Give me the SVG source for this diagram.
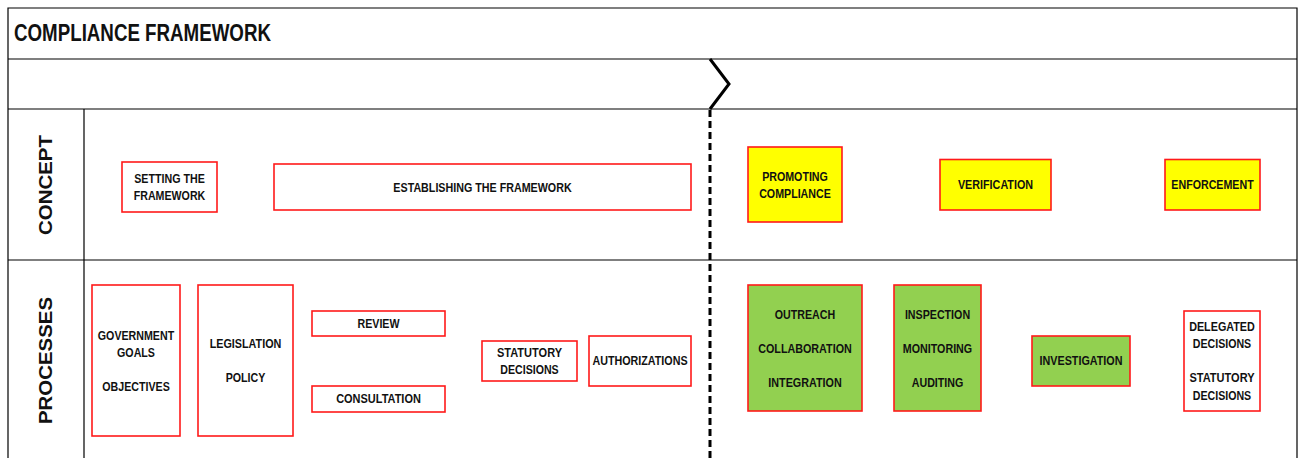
<svg xmlns="http://www.w3.org/2000/svg" width="1298" height="458" viewBox="0 0 1298 458">
<style>
.grid{fill:none;stroke:#000;stroke-width:1.2}
.box{fill:#fff;stroke:#ff1a1a;stroke-width:1.6}
.yel{fill:#ffff00;stroke:#ff1a1a;stroke-width:1.6}
.grn{fill:#92d050;stroke:#ff1a1a;stroke-width:1.6}
.t{font-family:"Liberation Sans Narrow","Liberation Sans",Arial,sans-serif;font-weight:bold;font-size:13.6px;fill:#111;text-anchor:middle}
.lab{font-family:"Liberation Sans",Arial,sans-serif;font-weight:bold;font-size:18px;fill:#111;text-anchor:middle}
.title{font-family:"Liberation Sans Narrow","Liberation Sans",Arial,sans-serif;font-weight:bold;font-size:23px;fill:#111}
</style>
<rect width="1298" height="458" fill="#fff"/>
<g id="frame">
<path class="grid" d="M8,458 V8 H1297 V458 M8,59 H1297 M8,109 H1297 M8,260 H1297 M84,109 V458"/>
<text class="title" x="14" y="41" textLength="257" lengthAdjust="spacingAndGlyphs">COMPLIANCE FRAMEWORK</text>
<text class="lab" transform="translate(52,185) rotate(-90)" textLength="100" lengthAdjust="spacingAndGlyphs">CONCEPT</text>
<text class="lab" transform="translate(52,360.5) rotate(-90)" textLength="127" lengthAdjust="spacingAndGlyphs">PROCESSES</text>
</g>
<g id="connectors">
<polyline points="710,59 729,84 710,109" fill="none" stroke="#000" stroke-width="3"/>
<line x1="710" y1="110" x2="710" y2="458" stroke="#000" stroke-width="3" stroke-dasharray="7 4"/>
</g>
<g id="setting"><rect class="box" x="122" y="162" width="95" height="50"/>
<text class="t" x="169.5" y="183" textLength="70.5" lengthAdjust="spacingAndGlyphs">SETTING THE</text>
<text class="t" x="169.5" y="200" textLength="71.6" lengthAdjust="spacingAndGlyphs">FRAMEWORK</text></g>
<g id="establishing"><rect class="box" x="274" y="164" width="417" height="46"/>
<text class="t" x="482.5" y="192" textLength="178.3" lengthAdjust="spacingAndGlyphs">ESTABLISHING THE FRAMEWORK</text></g>
<g id="promoting"><rect class="yel" x="748" y="147" width="94" height="75"/>
<text class="t" x="795" y="181" textLength="65.7" lengthAdjust="spacingAndGlyphs">PROMOTING</text>
<text class="t" x="795" y="198" textLength="71.7" lengthAdjust="spacingAndGlyphs">COMPLIANCE</text></g>
<g id="verification"><rect class="yel" x="940" y="159.5" width="111" height="50.5"/>
<text class="t" x="995.5" y="189" textLength="75.2" lengthAdjust="spacingAndGlyphs">VERIFICATION</text></g>
<g id="enforcement"><rect class="yel" x="1165" y="159.5" width="95" height="50.5"/>
<text class="t" x="1212.5" y="189" textLength="82.3" lengthAdjust="spacingAndGlyphs">ENFORCEMENT</text></g>
<g id="government"><rect class="box" x="92" y="285" width="88" height="151"/>
<text class="t" x="136" y="340" textLength="76.4" lengthAdjust="spacingAndGlyphs">GOVERNMENT</text>
<text class="t" x="136" y="357" textLength="37.9" lengthAdjust="spacingAndGlyphs">GOALS</text>
<text class="t" x="136" y="391" textLength="67.5" lengthAdjust="spacingAndGlyphs">OBJECTIVES</text></g>
<g id="legislation"><rect class="box" x="198" y="285" width="95" height="151"/>
<text class="t" x="245.5" y="348" textLength="71.7" lengthAdjust="spacingAndGlyphs">LEGISLATION</text>
<text class="t" x="245.5" y="382" textLength="39.7" lengthAdjust="spacingAndGlyphs">POLICY</text></g>
<g id="review"><rect class="box" x="312" y="311" width="133" height="25"/>
<text class="t" x="378.5" y="328" textLength="42.1" lengthAdjust="spacingAndGlyphs">REVIEW</text></g>
<g id="consultation"><rect class="box" x="312" y="386" width="133" height="26"/>
<text class="t" x="378.5" y="403" textLength="84.7" lengthAdjust="spacingAndGlyphs">CONSULTATION</text></g>
<g id="statutory"><rect class="box" x="482" y="341" width="95" height="40"/>
<text class="t" x="529.5" y="357" textLength="65.1" lengthAdjust="spacingAndGlyphs">STATUTORY</text>
<text class="t" x="529.5" y="374" textLength="58.4" lengthAdjust="spacingAndGlyphs">DECISIONS</text></g>
<g id="authorizations"><rect class="box" x="589" y="336" width="102" height="50"/>
<text class="t" x="640" y="365" textLength="95.1" lengthAdjust="spacingAndGlyphs">AUTHORIZATIONS</text></g>
<g id="outreach"><rect class="grn" x="748" y="285" width="114" height="126"/>
<text class="t" x="805" y="319" textLength="60.4" lengthAdjust="spacingAndGlyphs">OUTREACH</text>
<text class="t" x="805" y="353" textLength="93.6" lengthAdjust="spacingAndGlyphs">COLLABORATION</text>
<text class="t" x="805" y="387" textLength="73.4" lengthAdjust="spacingAndGlyphs">INTEGRATION</text></g>
<g id="inspection"><rect class="grn" x="894" y="285" width="87" height="126"/>
<text class="t" x="937.5" y="319" textLength="65.2" lengthAdjust="spacingAndGlyphs">INSPECTION</text>
<text class="t" x="937.5" y="353" textLength="69.3" lengthAdjust="spacingAndGlyphs">MONITORING</text>
<text class="t" x="937.5" y="387" textLength="51.5" lengthAdjust="spacingAndGlyphs">AUDITING</text></g>
<g id="investigation"><rect class="grn" x="1032" y="336" width="98" height="50"/>
<text class="t" x="1081" y="365" textLength="82.9" lengthAdjust="spacingAndGlyphs">INVESTIGATION</text></g>
<g id="delegated"><rect class="box" x="1184" y="311" width="76" height="100"/>
<text class="t" x="1222" y="331" textLength="65.7" lengthAdjust="spacingAndGlyphs">DELEGATED</text>
<text class="t" x="1222" y="348" textLength="58.4" lengthAdjust="spacingAndGlyphs">DECISIONS</text>
<text class="t" x="1222" y="382" textLength="65.1" lengthAdjust="spacingAndGlyphs">STATUTORY</text>
<text class="t" x="1222" y="400" textLength="58.4" lengthAdjust="spacingAndGlyphs">DECISIONS</text></g>
</svg>
